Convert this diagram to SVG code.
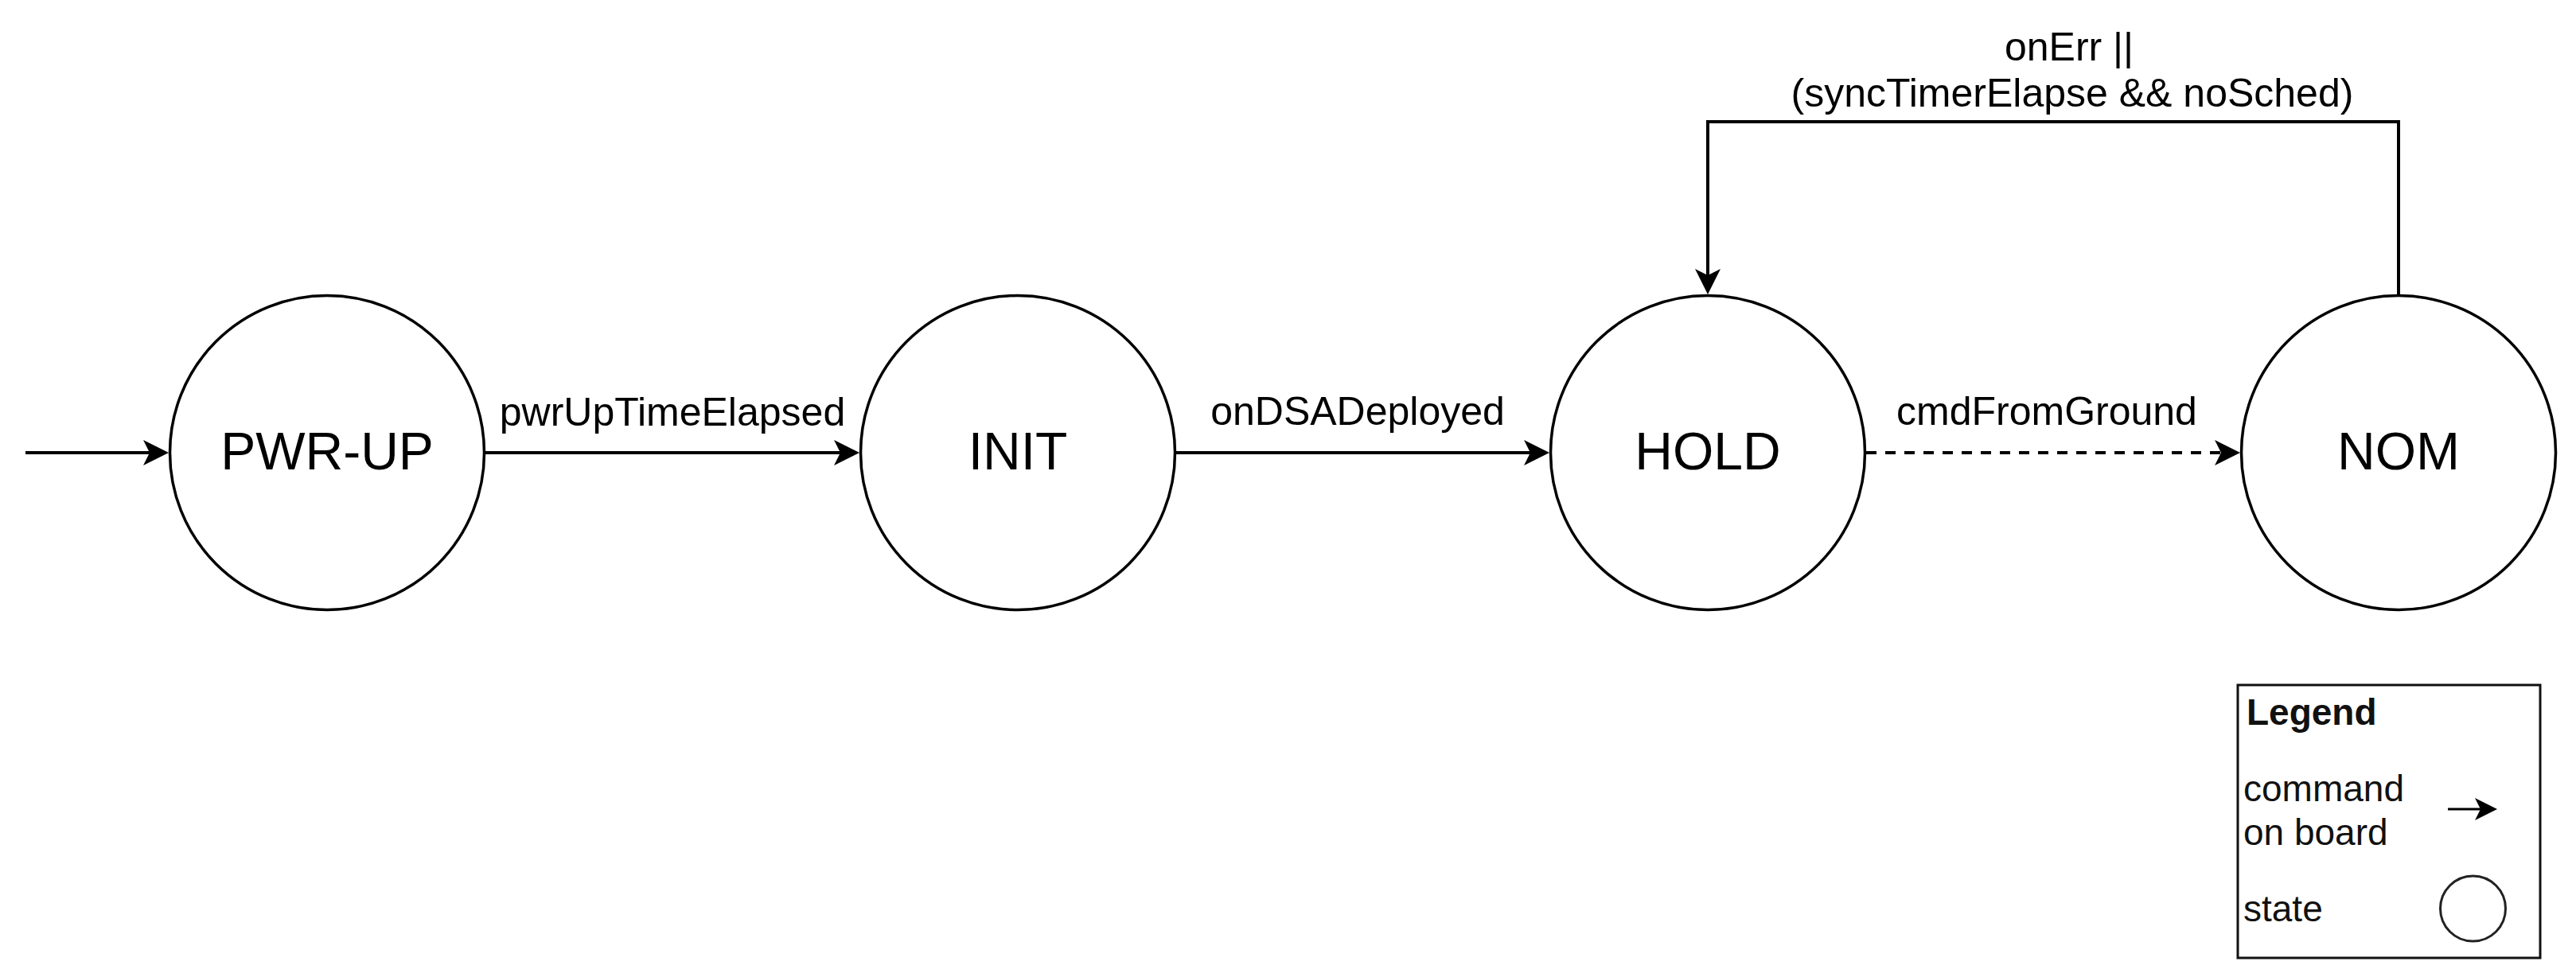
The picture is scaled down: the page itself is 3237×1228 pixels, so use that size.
<svg xmlns="http://www.w3.org/2000/svg" width="3237" height="1228" viewBox="0 0 3237 1228">
<style>
  text { font-family: "Liberation Sans", Arial, Helvetica, sans-serif; fill: #000; }
  .state { fill: #fff; stroke: #000; stroke-width: 3.5; }
  .state-label { font-size: 66px; text-anchor: middle; }
  .edge { fill: none; stroke: #000; stroke-width: 4; }
  .dashed { stroke-dasharray: 13 11; }
  .edge-label { font-size: 50px; text-anchor: middle; }
  .legend-box { fill: #fff; stroke: #111; stroke-width: 3; }
  .legend-text { font-size: 46px; fill: #111; }
</style>
<defs>
  <marker id="arrow" markerUnits="userSpaceOnUse" viewBox="0 0 32 32" markerWidth="32" markerHeight="32" refX="8" refY="16" orient="auto">
    <path d="M0,0 L32,16 L0,32 L8,16 Z" fill="#000"/>
  </marker>
  <marker id="arrowSm" markerUnits="userSpaceOnUse" viewBox="0 0 28 28" markerWidth="28" markerHeight="28" refX="7" refY="14" orient="auto">
    <path d="M0,0 L28,14 L0,28 L7,14 Z" fill="#000"/>
  </marker>
</defs>
<rect width="3237" height="1228" fill="#fff"/>

<g id="connectors">
  <g id="edge-start">
    <line class="edge" x1="32" y1="569" x2="188" y2="569" marker-end="url(#arrow)"/>
  </g>
  <g id="edge-pwrup-init">
    <line class="edge" x1="610" y1="569" x2="1056" y2="569" marker-end="url(#arrow)"/>
    <text class="edge-label" x="845" y="535">pwrUpTimeElapsed</text>
  </g>
  <g id="edge-init-hold">
    <line class="edge" x1="1478" y1="569" x2="1923" y2="569" marker-end="url(#arrow)"/>
    <text class="edge-label" x="1706" y="534">onDSADeployed</text>
  </g>
  <g id="edge-hold-nom">
    <line class="edge dashed" x1="2345" y1="569" x2="2791" y2="569" marker-end="url(#arrow)"/>
    <text class="edge-label" x="2572" y="534">cmdFromGround</text>
  </g>
  <g id="edge-nom-hold">
    <polyline class="edge" points="3014,370 3014,153 2146,153 2146,346" marker-end="url(#arrow)"/>
    <text class="edge-label" x="2600" y="76">onErr ||</text>
    <text class="edge-label" x="2604" y="134">(syncTimerElapse &amp;&amp; noSched)</text>
  </g>
</g>

<g id="node-pwrup">
  <circle class="state" cx="411" cy="569" r="197.5"/>
  <text class="state-label" x="411" y="590">PWR-UP</text>
</g>
<g id="node-init">
  <circle class="state" cx="1279" cy="569" r="197.5"/>
  <text class="state-label" x="1279" y="590">INIT</text>
</g>
<g id="node-hold">
  <circle class="state" cx="2146" cy="569" r="197.5"/>
  <text class="state-label" x="2146" y="590">HOLD</text>
</g>
<g id="node-nom">
  <circle class="state" cx="3014" cy="569" r="197.5"/>
  <text class="state-label" x="3014" y="590">NOM</text>
</g>

<g id="legend">
  <rect class="legend-box" x="2812" y="861" width="380" height="343"/>
  <text class="legend-text" x="2823" y="911" font-weight="bold">Legend</text>
  <text class="legend-text" x="2819" y="1007">command</text>
  <text class="legend-text" x="2819" y="1062">on board</text>
  <line x1="3076" y1="1017" x2="3117" y2="1017" stroke="#000" stroke-width="3" marker-end="url(#arrowSm)"/>
  <text class="legend-text" x="2819" y="1158">state</text>
  <circle cx="3107.5" cy="1142" r="41" fill="none" stroke="#222" stroke-width="3"/>
</g>
</svg>
